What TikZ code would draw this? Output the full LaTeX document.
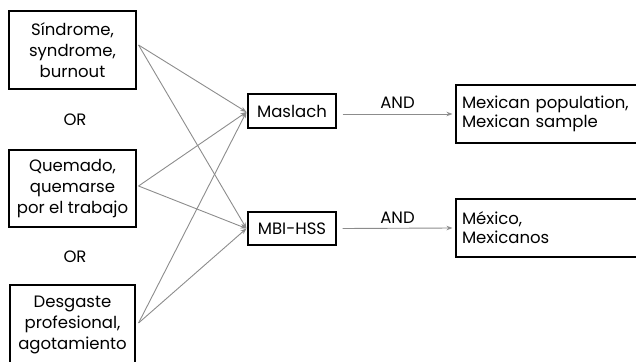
\documentclass[tikz,border=0pt]{standalone}
\usepackage{fontspec}
\setmainfont{Poppins}
\usetikzlibrary{arrows.meta,calc}
\begin{document}
\begin{tikzpicture}[x=1pt,y=-1pt,
  box/.style={draw=black,line width=1.1pt,inner sep=0pt,align=center,font=\fontsize{16.5}{21}\selectfont},
  lbl/.style={inner sep=0pt,font=\fontsize{16.5}{21}\selectfont},
  link/.style={draw=black!45,line width=0.9pt,-{Stealth[length=6pt,width=4.5pt]}},
]
\useasboundingbox (0,0) rectangle (636,361);
\clip (0,0) rectangle (636,361);
\node[box,minimum width=127pt,minimum height=78pt] (b1) at (72.5,50) {Síndrome,\\syndrome,\\burnout};
\node[lbl] (or1) at (75,120) {OR};
\node[box,minimum width=127pt,minimum height=77pt] (b2) at (72.5,188.5) {Quemado,\\quemarse\\por el trabajo};
\node[lbl] (or2) at (75,257) {OR};
\node[box,minimum width=125pt,minimum height=82pt] (b3) at (72.5,326) {};
\node[lbl,align=center] (b3t) at (72.5,325) {Desgaste\\profesional,\\agotamiento};
\node[box,minimum width=88pt,minimum height=34pt] (m) at (292,111) {Maslach};
\node[box,minimum width=88pt,minimum height=33pt] (h) at (292,228.5) {MBI-HSS};
\node[box,minimum width=200pt,minimum height=58pt,text width=188pt,align=left,font=\fontsize{16.5}{19}\selectfont] (p) at (556,114) {Mexican population,\\Mexican sample};
\node[box,minimum width=200pt,minimum height=58pt,text width=188pt,align=left,font=\fontsize{16.5}{19}\selectfont] (x) at (556,228) {México,\\Mexicanos};
\coordinate (s1) at ($(b1.east)+(2,-5)$);
\coordinate (s2) at ($(b2.east)+(2,-2.5)$);
\coordinate (s3) at ($(b3.east)+(3,-3)$);
\foreach \s in {s1,s2,s3}{
  \draw[link] (\s) -- ($(m.west)+(-1,1)$);
  \draw[link] (\s) -- ($(h.west)+(-1,0)$);
}
\draw[link] ($(m.east)+(6,3)$) -- node[lbl,above=5pt] (and1) {AND} ($(p.west)+(-3,0)$);
\draw[link] ($(h.east)+(6,0)$) -- node[lbl,above=4pt] (and2) {AND} ($(x.west)+(-3,0)$);
\end{tikzpicture}
\end{document}
